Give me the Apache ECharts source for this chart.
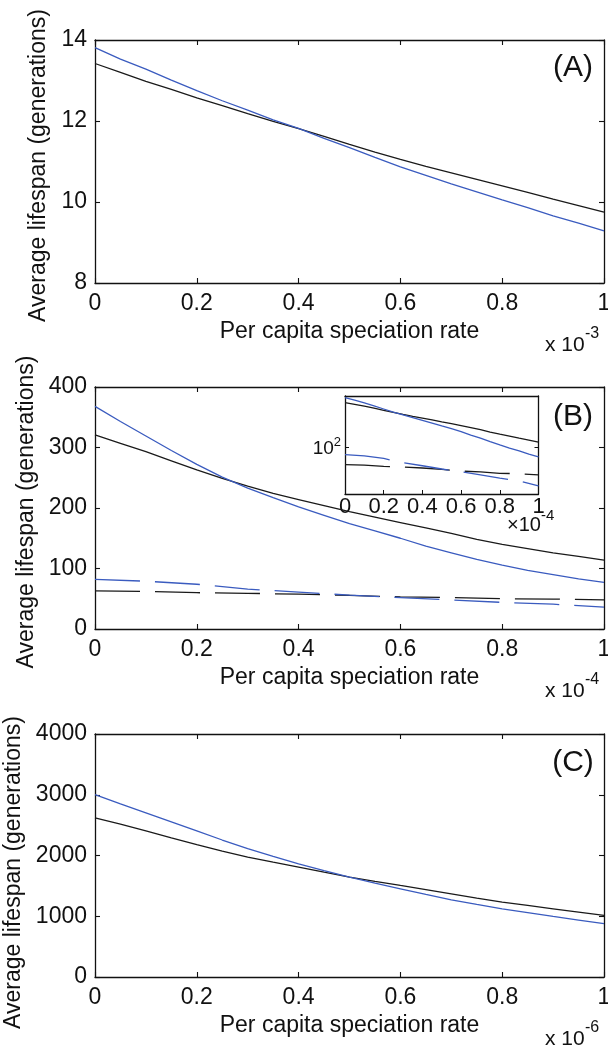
<!DOCTYPE html>
<html>
<head>
<meta charset="utf-8">
<script src="https://cdn.jsdelivr.net/npm/echarts@6/dist/echarts.min.js"></script>
<style>
html,body{margin:0;padding:0;background:#fff;}
#c{width:608px;height:1049px;}
</style>
</head>
<body>
<div id="c"></div>
<script>
// ---- data (x in units of 10^-3, 10^-4, 10^-6 respectively) ----
const x21 = [0,0.05,0.1,0.15,0.2,0.25,0.3,0.35,0.4,0.45,0.5,0.55,0.6,0.65,0.7,0.75,0.8,0.85,0.9,0.95,1];
const x11 = [0,0.1,0.2,0.3,0.4,0.5,0.6,0.7,0.8,0.9,1];

const aBlue  = [13.81,13.53,13.28,13.01,12.75,12.50,12.27,12.03,11.82,11.57,11.34,11.10,10.87,10.66,10.45,10.25,10.05,9.86,9.66,9.48,9.29];
const aBlack = [13.42,13.20,12.98,12.78,12.57,12.38,12.18,11.99,11.81,11.62,11.42,11.23,11.05,10.88,10.72,10.56,10.40,10.24,10.07,9.91,9.75];

const bBlueSolid  = [368,343,319,295,272,251,233,217,202,188,174,162,150,137,126,115,105.5,97,90,83,77];
const bBlackSolid = [321,307,293,278,263,249,236,224,214,204,194,185,176,167,158,148,140,133,126,120,114];
const bBlueDash   = [82,79,74,66,61,56,52,48,44,41,36];
const bBlackDash  = [63,62,60,59,57.5,55.5,53,52,50,49.5,48];

const cBlue  = [3003,2850,2703,2555,2405,2255,2115,1985,1863,1750,1644,1545,1452,1360,1271,1195,1123,1060,997,937,877];
const cBlack = [2619,2515,2405,2290,2180,2073,1975,1890,1808,1725,1644,1575,1507,1440,1370,1300,1233,1178,1123,1068,1014];

const panelLabels = ['(A)','(B)','(C)'];
const exponents = ['-3','-4','-6'];
const yTitle = 'Average lifespan (generations)';
const xTitle = 'Per capita speciation rate';

// ---- styling ----
const FONT = '"Liberation Sans", Arial, Helvetica, sans-serif';
const BLUE = '#3a5bbf';
const BLACK = '#1a1a1a';
const AX = '#111';

const grids = [
  {left:95, top:40,  width:509, height:243},
  {left:95, top:387, width:509, height:242},
  {left:95, top:734, width:509, height:243},
  {left:345, top:396, width:193.5, height:98}
].map(g => Object.assign({outerBoundsMode:'none', containLabel:false}, g));

const axisLine = {show:true, onZero:false, lineStyle:{color:AX, width:1.3}};
const tick = {show:true, inside:true, length:5, lineStyle:{color:AX, width:1.1}};

function mainX(gi, pos){
  return {
    type:'value', gridIndex:gi, position:pos, min:0, max:1, interval:0.2,
    axisLine, axisTick:tick, splitLine:{show:false},
    axisLabel: pos==='bottom' ? {show:true, margin:9, fontSize:23, color:'#111', fontFamily:FONT} : {show:false},
    name: pos==='bottom' ? xTitle : '',
    nameLocation:'middle', nameGap:37,
    nameTextStyle:{fontSize:23, color:'#111', fontFamily:FONT}
  };
}
function mainY(gi, pos, min, max, interval, gap, pad){
  return {
    type:'value', gridIndex:gi, position:pos, min, max, interval,
    axisLine, axisTick:tick, splitLine:{show:false},
    axisLabel: pos==='left' ? {show:true, margin:8, fontSize:23, color:'#111', fontFamily:FONT,
                                formatter: v => String(v)} : {show:false},
    name: pos==='left' ? yTitle : '',
    nameLocation:'middle', nameGap:gap, nameRotate:90,
    nameTextStyle:{fontSize:23, color:'#111', fontFamily:FONT, padding:pad}
  };
}

const xAxis = [
  mainX(0,'bottom'), mainX(1,'bottom'), mainX(2,'bottom'),
  mainX(0,'top'), mainX(1,'top'), mainX(2,'top'),
  {type:'value', gridIndex:3, position:'bottom', min:0, max:1, interval:0.2,
   axisLine, axisTick:{show:true, inside:true, length:4, lineStyle:{color:AX}}, splitLine:{show:false},
   axisLabel:{margin:2, fontSize:22, color:'#111', fontFamily:FONT}},
  {type:'value', gridIndex:3, position:'top', min:0, max:1,
   axisLine, axisTick:{show:false}, axisLabel:{show:false}, splitLine:{show:false}}
];

const yAxis = [
  mainY(0,'left',8,14,2,42,[0,8,0,0]),
  mainY(1,'left',0,400,100,57,[0,8,0,0]),
  mainY(2,'left',0,4000,1000,57,[0,34,0,0]),
  mainY(0,'right',8,14,2,0,0),
  mainY(1,'right',0,400,100,0,0),
  mainY(2,'right',0,4000,1000,0,0),
  {type:'log', logBase:10, gridIndex:3, position:'left', min:29, max:383,
   axisLine, axisTick:{show:true, inside:true, length:4, lineStyle:{color:AX}}, splitLine:{show:false},
   axisLabel:{margin:4, color:'#111', fontFamily:FONT,
     formatter: v => (Math.abs(v-100) < 1e-6 ? '{b|10}{s|2}' : ''),
     rich:{b:{fontSize:19, fontFamily:FONT, color:'#111', lineHeight:22, verticalAlign:'bottom'},
           s:{fontSize:13, fontFamily:FONT, color:'#111', verticalAlign:'top', padding:[0,0,10,0]}}}},
  {type:'log', logBase:10, gridIndex:3, position:'right', min:29, max:383,
   axisLine, axisTick:{show:true, inside:true, length:4, lineStyle:{color:AX}}, axisLabel:{show:false}, splitLine:{show:false}}
];

const pairs = (xs, ys) => xs.map((x,i) => [x, ys[i]]);
function line(data, xi, yi, color, dashed){
  return {type:'line', xAxisIndex:xi, yAxisIndex:yi, data, showSymbol:false, symbol:'none',
    animation:false, silent:true,
    lineStyle:{color, width:1.3, type: dashed ? [45,15] : 'solid'}};
}

const series = [
  line(pairs(x21,aBlack),0,0,BLACK,false),
  line(pairs(x21,aBlue),0,0,BLUE,false),
  line(pairs(x11,bBlackDash),1,1,BLACK,true),
  line(pairs(x11,bBlueDash),1,1,BLUE,true),
  line(pairs(x21,bBlackSolid),1,1,BLACK,false),
  line(pairs(x21,bBlueSolid),1,1,BLUE,false),
  line(pairs(x21,cBlack),2,2,BLACK,false),
  line(pairs(x21,cBlue),2,2,BLUE,false),
  // inset: same panel-B data on a log axis
  line(pairs(x11,bBlackDash),6,6,BLACK,true),
  line(pairs(x11,bBlueDash),6,6,BLUE,true),
  line(pairs(x21,bBlackSolid),6,6,BLACK,false),
  line(pairs(x21,bBlueSolid),6,6,BLUE,false)
];

// text annotations: panel letters and x-axis exponents
const panelBottoms = [283, 629, 977];
const letterY = [68, 417, 763];
const graphic = [];
panelLabels.forEach((t,i) => {
  graphic.push({type:'text', style:{text:t, x:573, y:letterY[i], align:'center', verticalAlign:'middle',
    fontSize:30, fontFamily:FONT, fill:'#111'}});
  graphic.push({type:'text', style:{text:'x 10', x:545, y:panelBottoms[i]+62, align:'left', verticalAlign:'middle',
    fontSize:21, fontFamily:FONT, fill:'#111'}});
  graphic.push({type:'text', style:{text:exponents[i], x:585, y:panelBottoms[i]+51, align:'left', verticalAlign:'middle',
    fontSize:16, fontFamily:FONT, fill:'#111'}});
});
graphic.push({type:'text', style:{text:'\u00d710', x:507, y:525, align:'left', verticalAlign:'middle',
  fontSize:20, fontFamily:FONT, fill:'#111'}});
graphic.push({type:'text', style:{text:'-4', x:541, y:516, align:'left', verticalAlign:'middle',
  fontSize:15, fontFamily:FONT, fill:'#111'}});

const chart = echarts.init(document.getElementById('c'), null, {renderer:'canvas'});
chart.setOption({
  animation:false,
  backgroundColor:'#fff',
  textStyle:{fontFamily:FONT},
  grid: grids,
  xAxis, yAxis, series, graphic
});
</script>
</body>
</html>
